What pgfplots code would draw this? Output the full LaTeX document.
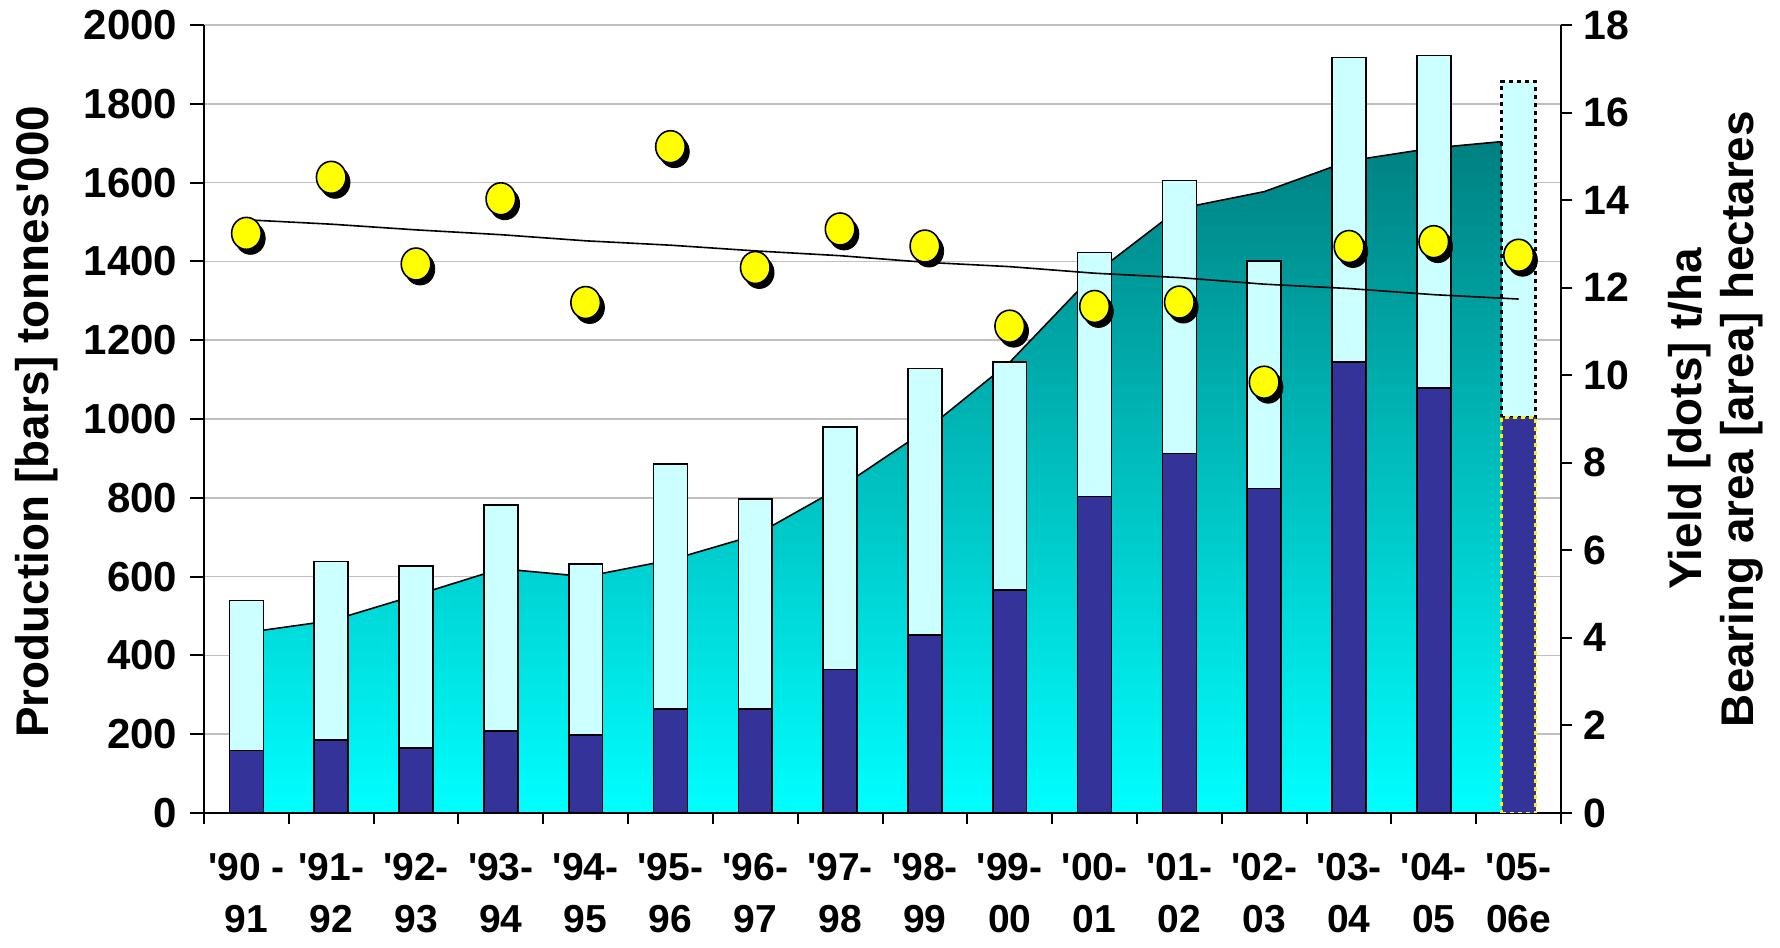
\documentclass[border=0pt]{standalone}
\usepackage{fontspec}
\setmainfont{Liberation Sans}[Ligatures=TeXOff]
\usepackage{pgfplots}
\pgfplotsset{compat=1.18}
\usepackage{pgfplotstable}

\definecolor{darkbar}{RGB}{51,51,153}
\definecolor{lightbar}{RGB}{204,255,255}
\definecolor{areatop}{RGB}{0,128,128}
\definecolor{areamid}{RGB}{0,205,205}
\definecolor{areabot}{RGB}{0,255,255}
\definecolor{gridgray}{RGB}{192,192,192}
\definecolor{dotyellow}{RGB}{255,255,0}

% production (tonnes '000): total, dark part, bearing area (plotted on left scale)
\pgfplotstableread{
x total dark area
0  539  159  458
1  638  186  488
2  627  165  553
3  781  208  620
4  632  198  600
5  886  264  642
6  797  264  705
7  980  364  826
8  1128 452  970
9  1144 566  1144
10 1423 803  1369
11 1605 912  1534
12 1401 824  1577
13 1917 1144 1655
14 1923 1079 1688
15 1856 1004 1708
}\prodtab

% yield t/ha and trend line
\pgfplotstableread{
x yield trend
0  13.24 13.55
1  14.52 13.45
2  12.54 13.32
3  14.03 13.21
4  11.66 13.07
5  15.22 12.97
6  12.46 12.84
7  13.34 12.73
8  12.95 12.58
9  11.12 12.48
10 11.57 12.33
11 11.67 12.23
12 9.84  12.08
13 12.94 11.98
14 13.05 11.84
15 12.74 11.74
}\yieldtab

\pgfplotsset{base/.style={at={(102pt,67pt)}, anchor=south west, scale only axis,
  width=678.5pt, height=394pt, xmin=-0.5, xmax=15.5}}

\begin{document}
\begin{tikzpicture}
\path[use as bounding box] (0,0) rectangle (890pt,473.5pt);

% main axis: area + bars
\begin{axis}[base, ymin=0, ymax=2000,
  axis x line=bottom, axis y line=left,
  axis line style={-, line width=1pt, black},
  tick align=outside,
  ytick={0,200,...,2000},
  xtick={0,...,15},
  xticklabels={{'90 -\\91},{'91-\\92},{'92-\\93},{'93-\\94},{'94-\\95},{'95-\\96},{'96-\\97},{'97-\\98},{'98-\\99},{'99-\\00},{'00-\\01},{'01-\\02},{'02-\\03},{'03-\\04},{'04-\\05},{'05-\\06e}},
  minor xtick={-0.5,0.5,...,15.5},
  major x tick style={draw=none},
  minor x tick style={line width=1pt, black},
  major y tick style={line width=1pt, black},
  major tick length=6.8pt, minor tick length=5.7pt,
  ymajorgrids, major grid style={gridgray, line width=0.75pt},
  /pgf/number format/assume math mode=true,
  /pgf/number format/1000 sep={},
  scaled y ticks=false,
  yticklabel style={font=\bfseries\fontsize{21}{21}\selectfont, xshift=-3pt},
  xticklabel style={font=\bfseries\fontsize{19.5}{25.8}\selectfont, align=center, yshift=-10pt},
  ylabel={Production [bars] tonnes'000},
  ylabel style={font=\bfseries\fontsize{22.9}{22.9}\selectfont, at={(axis description cs:-0.123,0.4965)}, anchor=center},
]
\addplot[draw=black, line width=0.8pt, top color=areatop, middle color=areamid, bottom color=areabot]
  table[x=x, y=area] {\prodtab} \closedcycle;
\addplot[ybar, bar width=0.4, bar shift=0pt, fill=lightbar, draw=black, line width=0.8pt,
  restrict x to domain=0:14] table[x=x, y=total] {\prodtab};
\addplot[ybar, bar width=0.4, bar shift=0pt, fill=darkbar, draw=black, line width=0.8pt,
  restrict x to domain=0:14] table[x=x, y=dark] {\prodtab};
\end{axis}

% estimated last bar
\begin{axis}[base, ymin=0, ymax=2000, hide axis, ybar stacked, bar width=0.4]
\addplot[fill=darkbar, draw=yellow, line width=1.2pt, dash pattern=on 2pt off 2pt] coordinates {(15,1004)};
\addplot[fill=lightbar, draw=black, line width=1.4pt, dash pattern=on 2pt off 2pt] coordinates {(15,852)};
\end{axis}

% right axis: yield
\begin{axis}[base, ymin=0, ymax=18,
  axis y line=right, axis x line=none,
  axis line style={-, line width=1pt, black},
  tick align=outside,
  ytick={0,2,...,18},
  major y tick style={line width=1pt, black},
  major tick length=5.7pt,
  /pgf/number format/assume math mode=true,
  yticklabel style={font=\bfseries\fontsize{20.5}{20.5}\selectfont, xshift=2pt},
  ylabel={Yield [dots] t/ha\\Bearing area [area] hectares},
  ylabel style={font=\bfseries\fontsize{22.9}{25.8}\selectfont, align=center,
    at={(axis description cs:1.114,0.5)}, anchor=center},
]
\addplot[black, line width=0.8pt] table[x=x, y=trend] {\yieldtab};
\addplot[only marks, mark=*, mark size=7.4pt,
  mark options={fill=black, draw=black, xshift=2pt, yshift=-2.5pt, yscale=1.08}]
  table[x=x, y=yield] {\yieldtab};
\addplot[only marks, mark=*, mark size=7.4pt,
  mark options={fill=dotyellow, draw=black, line width=0.8pt, yscale=1.08}]
  table[x=x, y=yield] {\yieldtab};
\end{axis}
\end{tikzpicture}
\end{document}
